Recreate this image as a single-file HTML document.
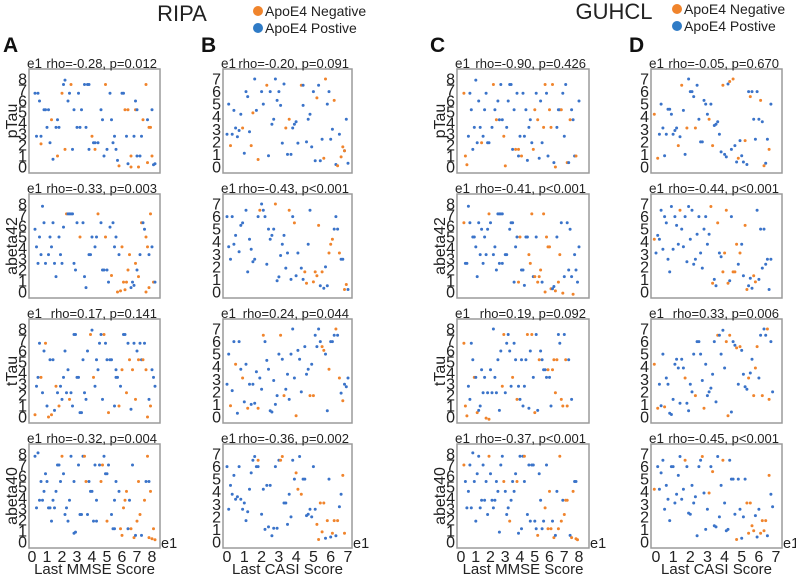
<!DOCTYPE html>
<html><head><meta charset="utf-8">
<style>
html,body{margin:0;padding:0;background:#fff;}
svg{display:block;font-family:"Liberation Sans",Arial,sans-serif;}
</style></head>
<body>
<svg id="fig" width="796" height="577" viewBox="0 0 796 577">
  <text x="182" y="21" font-size="22" text-anchor="middle" fill="#222">RIPA</text>
  <g>
    <circle cx="258" cy="11" r="5" fill="#f0842c"/>
    <text x="265" y="16" font-size="14" fill="#222">ApoE4 Negative</text>
    <circle cx="258" cy="28" r="5" fill="#2f7bc6"/>
    <text x="265" y="33" font-size="14" fill="#222">ApoE4 Postive</text>
  </g>
  <text x="614" y="19" font-size="22" text-anchor="middle" fill="#222">GUHCL</text>
  <g>
    <circle cx="677" cy="9" r="5" fill="#f0842c"/>
    <text x="684" y="14" font-size="14" fill="#222">ApoE4 Negative</text>
    <circle cx="677" cy="26" r="5" fill="#2f7bc6"/>
    <text x="684" y="31" font-size="14" fill="#222">ApoE4 Postive</text>
  </g>
  <text x="3" y="52" font-size="21" font-weight="bold" fill="#111">A</text>
  <text x="201" y="52" font-size="21" font-weight="bold" fill="#111">B</text>
  <text x="430" y="52" font-size="21" font-weight="bold" fill="#111">C</text>
  <text x="629" y="52" font-size="21" font-weight="bold" fill="#111">D</text>
  <g id="panels"></g>
</svg>
<script>
// ---- data ----
const rowLabels = ["pTau","abeta42","tTau","abeta40"];
const xAxisTitles = ["Last MMSE Score","Last CASI Score","Last MMSE Score","Last CASI Score"];
const colMax = [8,7,8,7];
const statsA = ["rho=-0.28, p=0.012","rho=-0.33, p=0.003","rho=0.17, p=0.141","rho=-0.32, p=0.004"];
const statsB = ["rho=-0.20, p=0.091","rho=-0.43, p<0.001","rho=0.24, p=0.044","rho=-0.36, p=0.002"];
const statsC = ["rho=-0.90, p=0.426","rho=-0.41, p<0.001","rho=0.19, p=0.092","rho=-0.37, p<0.001"];
const statsD = ["rho=-0.05, p=0.670","rho=-0.44, p<0.001","rho=0.33, p=0.006","rho=-0.45, p<0.001"];
// points: [x, y, group] group 0 = ApoE4 Negative, 1 = ApoE4 Postive
const ptsA1 = [[0.2,6.7,1],[0.4,6.7,1],[0.5,6,1],[0.3,2.8,1],[0.6,2.8,1],[0.6,2.1,0],[0.8,5.2,1],[0.9,5.2,1],[1.1,5.2,1],[1.0,3.6,1],[1.2,2.2,1],[1.4,0.7,1],[1.3,4.3,0],[1.6,3.6,1],[1.7,4.3,1],[1.8,3.6,1],[1.7,1,0],[2.0,6.7,0],[2.1,7.5,1],[2.2,7.9,1],[2.2,1.6,0],[2.4,6,1],[2.5,6.7,1],[2.6,7.5,0],[2.7,1.6,1],[2.8,5.2,1],[3.0,3.6,1],[3.1,6.7,1],[3.2,3.6,1],[3.3,5.2,1],[3.5,7.5,1],[3.6,3.6,1],[3.7,7.5,1],[3.8,7.5,1],[3.8,1.6,1],[4.0,2.8,0],[4.1,2.2,1],[4.2,2.2,1],[4.2,1.6,0],[4.4,2.2,1],[4.6,5.2,1],[4.7,4.3,1],[4.8,1,1],[4.9,7.5,0],[5.0,1.6,1],[5.2,6.7,1],[5.3,4.3,1],[5.4,2.2,1],[5.5,2.8,1],[5.6,1.6,1],[5.7,0.6,1],[5.8,0.1,0],[6.0,6.7,1],[6.1,6.7,1],[6.2,5.2,0],[6.4,5.2,0],[6.3,2.8,1],[6.4,0.3,1],[6.6,0,0],[6.6,1,0],[6.8,2.8,1],[6.9,5.2,0],[7.0,5.2,1],[6.9,6,1],[7.0,1,1],[7.2,1,1],[7.1,0,0],[7.3,2.8,1],[7.4,4.3,0],[7.6,7.5,0],[7.7,4.3,1],[7.8,3.6,0],[7.9,3.6,0],[7.7,0.4,0],[8.0,1,0],[8.0,5.2,1],[8.1,0.2,1],[8.2,0.3,1]];
const ptsA2 = [[0.2,5.7,1],[0.3,4.1,1],[0.4,2.6,1],[0.5,5,1],[0.6,3.4,1],[0.7,7.8,1],[0.8,6.3,1],[0.9,2.6,1],[1.1,3.4,1],[1.2,5,1],[1.3,4.1,1],[1.4,6.3,1],[1.5,2.6,1],[1.6,1.4,1],[1.8,5,1],[1.9,3.4,1],[2.0,2.6,1],[2.1,5.9,1],[2.3,7.1,0],[2.4,7.1,1],[2.5,7.1,1],[2.6,7.1,1],[2.7,7.1,1],[2.8,2.6,1],[2.9,2,1],[3.0,6.3,1],[3.2,5,0],[3.4,6.3,1],[3.5,1.4,1],[3.6,0.4,1],[3.8,3.4,1],[3.9,3.4,1],[4.0,5,1],[4.2,4.1,1],[4.3,5,1],[4.4,7.1,0],[4.6,6.3,1],[4.7,2,1],[4.8,2,1],[4.9,5,0],[5.0,2,1],[5.1,0.9,1],[5.2,5.9,1],[5.3,1.5,0],[5.4,6.3,1],[5.5,4.1,1],[5.6,5,1],[5.7,0,0],[5.8,3.4,1],[5.9,0.1,0],[6.0,4.1,0],[6.1,0.9,0],[6.2,0.2,0],[6.3,0.9,0],[6.4,2,0],[6.5,3.4,0],[6.6,0.4,1],[6.7,0.9,1],[6.8,0.6,1],[6.9,2.6,0],[7.0,2,1],[7.1,1.4,0],[7.2,3.4,1],[7.3,6.3,0],[7.4,6.3,1],[7.5,5.7,1],[7.6,5,0],[7.7,4.1,0],[7.8,3.4,1],[7.6,0,0],[7.8,0.4,0],[7.9,7.1,0],[8.0,4.1,1],[8.1,0.9,0],[8.2,0.9,1]];
const ptsA3 = [[0.2,0.2,0],[0.3,2.8,1],[0.4,3.6,1],[0.5,6.7,1],[0.6,3.6,0],[0.7,2.2,1],[0.8,6,1],[0.9,6.7,0],[1.0,1,1],[1.1,0,0],[1.2,5.2,1],[1.3,0.2,0],[1.4,5.2,1],[1.5,0.6,1],[1.6,2.8,0],[1.7,2.2,1],[1.8,1,0],[1.9,2.8,1],[2.0,1.6,1],[2.1,3.6,1],[2.2,6,1],[2.3,2.2,1],[2.4,4.3,1],[2.5,1.6,0],[2.6,2.2,1],[2.7,1,1],[2.8,7.5,1],[2.9,7.5,1],[3.0,3.6,1],[3.1,3.6,1],[3.2,0.4,1],[3.3,0.4,1],[3.4,5.2,1],[3.5,2.2,1],[3.6,1.6,1],[3.7,6,1],[3.9,7.5,0],[4.0,7.9,1],[4.1,3.6,0],[4.2,2.8,1],[4.3,5.2,1],[4.4,4.3,1],[4.5,6.7,1],[4.6,7.5,1],[4.7,1.6,1],[4.8,7.5,0],[4.9,6.7,1],[5.0,5.2,1],[5.1,0.4,0],[5.2,5.2,1],[5.3,5.2,1],[5.5,1,1],[5.6,3.6,1],[5.6,4.3,1],[5.7,3.6,1],[5.8,1,0],[5.9,2.8,1],[6.1,7.5,1],[6.2,7.5,1],[6.0,4.3,0],[6.3,2.2,0],[6.4,6.7,1],[6.5,5.2,0],[6.6,0.7,1],[6.7,4.3,0],[6.8,6.7,1],[6.9,1.6,0],[7.0,6,1],[7.1,5.2,0],[7.2,6.7,1],[7.3,5.2,1],[7.4,5.2,0],[7.5,6.7,1],[7.6,4.3,0],[7.7,0,0],[7.8,1.6,1],[7.9,1,0],[8.0,4.3,1],[8.1,3.6,1],[8.2,2.8,1]];
const ptsA4 = [[0.2,7.8,1],[0.3,3.1,1],[0.4,8.1,1],[0.5,3.8,1],[0.6,5.5,1],[0.7,3.8,1],[0.8,4.6,1],[0.9,6.2,1],[1.0,5.5,1],[1.1,3.1,1],[1.2,3.1,1],[1.3,1.9,1],[1.4,3.8,1],[1.5,3.1,1],[1.6,4.6,1],[1.7,7,1],[1.8,7,1],[1.9,5.5,1],[2.0,7.8,0],[2.1,6.2,1],[2.2,2.5,1],[2.3,3.1,1],[2.4,1.9,1],[2.5,3.8,1],[2.6,7.8,1],[2.8,0.8,1],[2.9,0.9,1],[2.8,5.5,1],[3.1,7,1],[3.2,2.5,1],[3.3,2.5,1],[3.4,7.8,1],[3.5,7.8,0],[3.6,5.5,0],[3.7,2.5,1],[3.8,5.5,1],[3.9,4.6,1],[4.0,4.6,1],[4.1,1.9,1],[4.2,7,1],[4.3,3.8,1],[4.3,1.9,1],[4.5,7,1],[4.6,5.5,0],[4.7,7,0],[4.8,7.8,1],[4.9,6.2,1],[5.0,6.2,1],[5.0,1.9,0],[5.1,7,1],[5.3,2.5,1],[5.4,1.2,1],[5.5,1.2,1],[5.5,3.8,1],[5.6,5.5,1],[5.8,4.6,1],[5.9,1.2,0],[6.0,0.6,0],[6.1,3.1,0],[6.2,3.8,0],[6.3,4.6,0],[6.4,1.2,1],[6.5,3.8,1],[6.6,1.2,0],[6.7,7,1],[6.8,0.4,0],[6.9,0.6,1],[7.0,1.9,0],[7.1,5.5,0],[7.2,2.5,0],[7.3,0.6,1],[7.5,3.8,0],[7.6,5.5,1],[7.7,7.8,0],[7.8,5.5,1],[7.9,4.6,0],[7.8,0.4,0],[8.0,0.3,0],[8.1,1.2,0],[8.2,0.2,0]];
const ptsB1 = [[0.0,2.6,1],[0.1,5,1],[0.2,1.7,0],[0.3,2.6,1],[0.4,4.5,1],[0.5,3.1,1],[0.6,2.4,1],[0.7,2.9,1],[0.8,4.2,1],[0.9,3.1,0],[1.0,1.1,1],[1.1,6,1],[1.2,5.6,1],[1.3,2.8,1],[1.4,1.7,0],[1.5,4.3,0],[1.6,7,1],[1.7,4.5,1],[1.8,0.6,0],[2.0,6,1],[2.1,5,1],[2.3,6.5,0],[2.4,0.9,1],[2.5,6,1],[2.6,3.4,1],[2.7,3.8,1],[2.8,7,1],[2.9,5.3,1],[3.0,6,1],[3.1,4.9,1],[3.2,1.9,1],[3.3,6.6,1],[3.4,3.1,0],[3.5,1,1],[3.6,3.8,0],[3.7,1,1],[3.8,3.1,1],[3.9,3.4,1],[4.0,3.6,1],[4.1,1.9,1],[4.3,6.5,0],[4.4,6.5,1],[4.4,4.9,1],[4.6,2,1],[4.7,3.8,1],[4.8,4.2,1],[4.9,1.6,1],[5.0,6,1],[5.1,0.5,1],[5.2,5.5,0],[5.3,6.5,1],[5.4,0.5,1],[5.5,2.2,1],[5.6,0.7,0],[5.7,7,0],[5.8,5,1],[5.9,6,1],[6.0,2.2,1],[6.1,3,1],[6.2,5.3,0],[6.3,0.2,1],[6.4,0.1,0],[6.5,2.6,1],[6.6,0.8,0],[6.7,1.6,0],[6.8,1.3,1],[6.8,1.3,0],[6.9,3.8,1],[7.0,0.3,1]];
const ptsB2 = [[0.0,6,1],[0.1,3.6,1],[0.2,2.6,1],[0.3,6,1],[0.4,3.8,1],[0.5,4.5,1],[0.7,3.2,1],[0.8,5.3,1],[0.9,5.5,1],[1.1,6.5,1],[1.2,1.6,1],[1.3,4.2,1],[1.4,3.4,1],[1.5,2.4,1],[1.6,2.6,1],[1.8,6,1],[1.9,6.5,0],[2.0,7,1],[2.1,6.5,1],[2.2,6,1],[2.3,2.2,1],[2.4,5,1],[2.5,4.2,1],[2.6,4.5,1],[2.7,5,1],[2.8,7,0],[2.9,0.9,1],[3.0,1.2,1],[3.1,2.9,1],[3.2,3.8,1],[3.3,4.5,1],[3.4,1.9,1],[3.5,3.1,1],[3.6,6.5,0],[3.7,1,1],[3.8,6,1],[3.9,5.5,0],[4.0,1.3,1],[4.1,3.1,1],[4.3,1.9,1],[4.4,1,1],[4.5,1.6,0],[4.6,0.7,0],[4.7,3.8,1],[4.8,6.5,1],[5.0,0.8,0],[5.1,1.6,0],[5.2,1.3,0],[5.3,5.3,0],[5.4,0.5,1],[5.5,1.6,0],[5.6,0.3,1],[5.7,2,1],[5.8,0.5,1],[5.9,3.1,0],[6.0,3.8,0],[6.1,4.2,0],[6.2,5,1],[6.3,6,1],[6.4,5,1],[6.5,3.1,0],[6.6,2.6,1],[6.7,2.6,1],[6.8,0.2,0],[6.9,0.6,0],[7.0,0.2,1]];
const ptsB3 = [[0.0,2.6,1],[0.1,5,1],[0.2,0.9,0],[0.3,2.1,1],[0.4,6,1],[0.5,4.2,0],[0.6,0.3,1],[0.7,6,1],[0.8,3.8,1],[0.9,3.1,0],[1.0,1.2,1],[1.1,4.2,1],[1.2,0.7,0],[1.3,2.6,1],[1.4,1,1],[1.5,2.6,1],[1.6,1.1,1],[1.7,3.6,1],[1.8,0.7,0],[1.9,3.1,1],[2.0,2.2,1],[2.1,6.5,0],[2.2,6,1],[2.3,4.5,1],[2.4,3.8,1],[2.5,0.5,1],[2.6,0.4,1],[2.7,2.9,1],[2.8,1,1],[2.9,1.7,1],[3.0,5,1],[3.1,6.5,0],[3.2,4.6,1],[3.3,1.7,0],[3.4,2.2,1],[3.5,3.4,1],[3.6,1.4,1],[3.7,5,1],[3.8,7,1],[3.9,3.1,1],[4.0,0.1,0],[4.1,5.3,1],[4.2,4.6,1],[4.3,2,1],[4.5,5.6,1],[4.6,3.4,1],[4.7,3.8,1],[4.8,1.7,0],[4.9,4.2,1],[5.0,1.7,0],[5.1,6.5,1],[5.2,5.6,1],[5.3,7,1],[5.4,6,1],[5.5,5.6,0],[5.6,5.3,0],[5.7,5,1],[5.8,0.5,1],[5.9,3.8,0],[6.0,6,1],[6.1,6,1],[6.2,6.5,1],[6.3,7,0],[6.4,6.5,1],[6.5,3.1,0],[6.6,1.9,1],[6.7,1.3,0],[6.8,2.6,1],[6.9,2.4,1],[7.0,3.1,1]];
const ptsB4 = [[0.0,6,1],[0.1,2.6,1],[0.2,4.5,1],[0.3,3.8,1],[0.4,5.3,1],[0.5,3.4,1],[0.6,3.6,1],[0.7,6,1],[0.8,3.4,1],[0.9,2.6,1],[1.0,3.1,1],[1.1,1.7,1],[1.2,2.4,1],[1.3,4.2,1],[1.4,5.5,1],[1.5,6.5,1],[1.6,6.8,1],[1.7,6,1],[1.8,6,1],[1.8,6.5,0],[2.0,2.2,1],[2.1,4.2,1],[2.2,1,1],[2.3,4.5,1],[2.4,1.2,1],[2.5,4.5,1],[2.6,0.5,1],[2.7,1.1,1],[2.8,6,1],[2.9,1.1,1],[3.0,6.5,1],[3.1,6.5,0],[3.2,6.8,0],[3.3,3.1,1],[3.4,3.1,1],[3.5,1.4,1],[3.6,3.8,1],[3.7,2,1],[3.8,6.5,1],[3.9,5,1],[4.0,5.5,0],[4.1,4.2,0],[4.2,6.8,1],[4.3,3.8,0],[4.4,5,1],[4.5,5,1],[4.6,2.1,1],[4.7,2.2,1],[4.8,2.6,1],[4.9,2,1],[5.0,6,1],[5.1,2.6,1],[5.2,1.4,0],[5.3,0.2,0],[5.4,3.1,0],[5.5,0.8,0],[5.6,3.1,0],[5.7,0.3,1],[5.8,1.7,0],[5.9,5,1],[6.0,0.4,1],[6.1,0.7,0],[6.2,1.7,0],[6.3,0.5,1],[6.4,1.7,0],[6.5,2.8,1],[6.6,3.8,1],[6.7,5.3,0],[6.8,0.7,0]];
const ptsC1 = [[0.2,6.7,0],[0.3,1,0],[0.4,0.2,0],[0.5,2.8,1],[0.6,6.7,1],[0.7,5.2,1],[0.8,1.6,1],[0.9,3.6,1],[1.0,7.9,1],[1.1,2.2,1],[1.2,6,1],[1.3,3.6,1],[1.4,2.2,0],[1.5,2.8,1],[1.6,5.2,1],[1.7,6.7,1],[1.8,2.2,1],[1.9,2.2,1],[2.1,3.6,1],[2.2,7.5,0],[2.3,5.2,1],[2.4,4.3,0],[2.5,6,1],[2.6,4.3,1],[2.7,7.5,1],[2.8,4.3,1],[2.9,2.8,0],[3.0,0.1,0],[3.1,3.6,1],[3.2,6,1],[3.3,7.5,1],[3.4,7.5,1],[3.5,1.6,1],[3.6,5.2,1],[3.7,1.6,0],[3.8,6.7,1],[3.9,1.6,0],[3.9,1,1],[4.0,2.8,1],[4.1,1,0],[4.2,6.7,1],[4.3,2.8,1],[4.4,5.2,1],[4.5,0.6,1],[4.6,3.6,1],[4.7,4.3,1],[4.8,2.2,1],[4.9,1.6,0],[5.0,5.2,0],[5.1,6.7,1],[5.2,4.3,0],[5.3,0.8,1],[5.4,6,1],[5.5,2.2,1],[5.6,3.6,0],[5.7,7.5,0],[5.8,6.7,1],[5.9,1,1],[6.0,5.2,0],[6.1,3.6,0],[6.2,7.5,0],[6.3,0.4,1],[6.4,0,0],[6.5,3.6,1],[6.6,5.2,1],[6.7,5.2,1],[6.8,5.2,0],[6.9,6.7,1],[7.0,2.8,1],[7.1,7.5,1],[7.2,0.4,0],[7.3,0.4,1],[7.4,4.3,0],[7.5,5.2,1],[7.6,4.3,1],[7.7,1,1],[7.8,1,0],[8.0,6,1]];
const ptsC2 = [[0.2,6.3,0],[0.3,2.6,1],[0.4,2.6,1],[0.5,7.8,1],[0.6,6.3,1],[0.8,5,1],[0.9,5,1],[1.0,4.1,1],[1.1,1.4,1],[1.2,6.3,1],[1.3,3.4,1],[1.4,5.7,1],[1.5,2.6,1],[1.6,5,1],[1.7,3.4,1],[1.8,5.7,1],[1.9,7.1,0],[2.0,6.3,1],[2.2,3.4,1],[2.3,4.1,1],[2.4,2,1],[2.5,7.1,1],[2.6,7.1,1],[2.7,7.1,1],[2.8,7.1,1],[2.6,2.6,1],[2.8,2.6,1],[3.0,3.4,1],[3.1,3.4,1],[3.3,5.7,1],[3.4,6.3,1],[3.5,6.3,1],[3.6,0.9,1],[3.7,4.1,1],[3.8,5,1],[3.9,0.9,0],[4.0,5,0],[4.1,2,1],[4.2,2,1],[4.3,0.6,1],[4.4,5,1],[4.5,5,1],[4.6,3.4,0],[4.7,2.6,0],[4.8,7.1,0],[4.9,1.4,1],[5.0,1.4,0],[5.1,5,1],[5.2,0.9,0],[5.3,1.4,0],[5.4,2,0],[5.5,0.9,1],[5.6,7.1,0],[5.7,0,0],[5.8,5,0],[5.9,4.1,0],[6.0,4.1,0],[6.1,0.3,0],[6.2,0.3,1],[6.3,0.5,1],[6.4,0.1,0],[6.5,5,1],[6.6,0.9,0],[6.7,3.4,0],[6.8,6.3,1],[6.9,-0.1,0],[7.0,1.4,1],[7.2,6.3,1],[7.3,2,1],[7.4,5.7,1],[7.5,1.4,1],[7.6,-0.2,0],[7.7,3.4,1],[7.8,2,1],[7.9,0.9,1],[8.0,4.1,1]];
const ptsC3 = [[0.2,6.7,0],[0.3,1,0],[0.4,0.1,0],[0.5,2.8,1],[0.6,1.6,1],[0.7,6.7,1],[0.8,5.2,1],[0.9,3.6,0],[1.0,3.6,1],[1.1,0.4,0],[1.2,0.6,1],[1.3,1,1],[1.4,4.3,1],[1.5,2.2,1],[1.6,3.6,1],[1.7,-0.1,0],[1.8,2.2,1],[1.9,-0.2,0],[2.0,4.3,1],[2.1,2.2,1],[2.2,8,1],[2.3,3.6,1],[2.4,2.2,1],[2.5,5.2,1],[2.6,0.6,1],[2.7,6,1],[2.8,2.8,0],[2.9,7.5,0],[3.0,2.2,1],[3.1,6.7,1],[3.2,7.5,1],[3.3,6,1],[3.4,2.8,1],[3.5,3.6,0],[3.6,6.7,1],[3.7,5.2,1],[3.8,1.6,0],[3.9,2.8,1],[4.0,1.6,1],[4.1,5.2,1],[4.2,1,1],[4.3,2.8,1],[4.4,5.2,1],[4.5,7.5,0],[4.6,0.8,1],[4.7,6,1],[4.8,7.5,0],[4.9,3.6,1],[5.0,0.4,0],[5.1,7.5,1],[5.2,0.6,1],[5.3,5.2,0],[5.4,6,1],[5.5,5.2,1],[5.6,4.3,1],[5.7,4.3,1],[5.8,3.6,1],[5.9,4.3,0],[6.0,3.6,1],[6.1,1,1],[6.2,4.3,0],[6.3,5.2,0],[6.4,2.2,0],[6.5,5.2,0],[6.6,7.5,1],[6.7,6.7,1],[6.8,1.6,0],[6.9,1,0],[7.0,7.5,1],[7.1,5.2,0],[7.2,1,0],[7.3,5.2,1],[7.5,1.6,1]];
const ptsC4 = [[0.2,7,0],[0.3,5.5,1],[0.4,3.1,1],[0.5,4.6,1],[0.6,7,1],[0.7,3.1,1],[0.8,8.1,1],[0.9,5.5,1],[1.0,1.9,1],[1.1,6.2,1],[1.2,7.8,1],[1.3,3.1,1],[1.4,3.8,1],[1.5,7,1],[1.6,3.8,1],[1.7,5.5,1],[1.8,2.5,1],[1.9,7.8,0],[2.0,6.2,1],[2.1,3.8,1],[2.2,3.1,1],[2.3,3.8,1],[2.4,5.5,1],[2.5,4.6,1],[2.6,0.9,1],[2.7,7,1],[2.8,7.8,1],[2.9,5.5,0],[3.0,4.6,1],[3.1,2.5,1],[3.2,3.1,1],[3.3,1.9,0],[3.4,3.8,1],[3.5,5.5,1],[3.6,4.6,1],[3.7,6.2,1],[3.8,5.5,0],[3.9,0.8,1],[4.0,7.8,1],[4.1,1.2,1],[4.2,7.8,1],[4.3,7.8,0],[4.3,5.5,1],[4.5,2.5,1],[4.6,7,1],[4.7,1.9,1],[4.8,7,1],[4.9,7,1],[5.0,1.9,1],[5.1,1.2,1],[5.2,0.6,0],[5.3,6.2,1],[5.4,3.8,1],[5.5,1.2,1],[5.6,1.9,1],[5.7,3.1,0],[5.8,7,1],[5.9,1.2,0],[6.0,4.6,0],[6.1,1.2,0],[6.2,1.9,1],[6.3,0.4,0],[6.4,0.6,1],[6.5,4.6,1],[6.6,1.2,0],[6.7,7.8,0],[6.8,1.9,0],[6.9,3.8,1],[7.0,2.5,0],[7.1,3.8,0],[7.2,3.8,0],[7.4,0.6,1],[7.5,0.4,0],[7.6,4.6,0],[7.7,5.5,1],[7.8,5.5,1],[7.8,0.3,0],[7.9,0.2,0]];
const ptsD1 = [[-0.1,4.2,0],[0.1,0.7,0],[0.2,2.6,1],[0.3,5,1],[0.4,3.1,1],[0.5,0.9,1],[0.6,2.6,1],[0.7,4.6,1],[0.8,4.6,1],[0.9,4.2,1],[1.0,2.6,1],[1.1,2.9,1],[1.2,3.1,1],[1.3,1.7,0],[1.4,2.4,1],[1.5,6.5,0],[1.6,4.5,1],[1.7,1,1],[1.8,3.1,0],[1.9,7,1],[2.0,6,1],[2.1,6,1],[2.2,5.6,1],[2.3,3.1,0],[2.4,6.5,1],[2.5,3.8,1],[2.6,2,1],[2.7,2,1],[2.8,5.3,1],[2.9,5,1],[3.0,4.2,1],[3.1,3.8,0],[3.2,5,1],[3.3,1.7,0],[3.4,3.3,1],[3.5,3.4,1],[3.6,3.6,1],[3.7,2.6,1],[3.8,1.2,1],[3.9,6.5,0],[4.0,1,1],[4.1,0.8,1],[4.2,6.6,1],[4.3,6.8,0],[4.4,1.4,1],[4.5,7,0],[4.6,1.7,1],[4.7,0.4,1],[4.8,0.7,0],[4.9,2.1,1],[5.0,0.9,1],[5.1,0.4,1],[5.2,2.1,0],[5.3,0.2,1],[5.4,6,1],[5.5,5.6,0],[5.6,6,1],[5.7,3.8,1],[5.8,2.2,1],[5.9,6,1],[6.0,3.8,1],[6.1,5.3,0],[6.2,3.6,1],[6.3,0.1,0],[6.4,0.3,1],[6.5,2.2,1],[6.6,1.4,0],[6.7,5,1]];
const ptsD2 = [[-0.1,4.2,0],[0.0,3.1,1],[0.1,4.5,1],[0.2,4.2,1],[0.3,6.5,1],[0.4,3.4,1],[0.5,6,1],[0.6,5.5,1],[0.7,2.6,1],[0.8,1.6,1],[0.9,6.8,1],[1.0,3.4,1],[1.1,6,1],[1.2,5.3,1],[1.3,3.8,1],[1.4,6.5,0],[1.5,5,1],[1.6,3.6,1],[1.7,6,1],[1.8,2.4,1],[1.9,6.8,1],[2.0,4.2,1],[2.1,6.5,1],[2.2,2.2,1],[2.3,2.6,1],[2.4,4.6,1],[2.5,6,1],[2.6,3.1,1],[2.7,1.9,1],[2.8,5,1],[2.9,6,1],[3.0,3.8,1],[3.1,4.6,1],[3.2,6.8,0],[3.3,0.7,0],[3.4,1,1],[3.5,0.5,1],[3.6,5.5,0],[3.7,3.1,1],[3.8,2.8,1],[3.9,1.6,0],[4.0,3.1,0],[4.1,6.5,0],[4.2,0.7,0],[4.3,0.9,1],[4.4,6,1],[4.5,1.6,0],[4.6,1.6,0],[4.7,3.8,0],[4.8,2.2,1],[4.9,3.1,0],[5.0,3.8,1],[5.1,1.3,1],[5.2,5.3,0],[5.3,0.2,0],[5.4,0.5,1],[5.5,1.1,1],[5.6,0.3,1],[5.7,1.3,0],[5.8,0.8,0],[5.9,6.5,1],[6.0,1,1],[6.1,5,1],[6.2,1.9,1],[6.3,5,1],[6.4,2.2,1],[6.5,2.6,1],[6.6,0.2,1],[6.7,2.6,1]];
const ptsD3 = [[-0.1,4.2,0],[0.1,0.7,0],[0.2,2.6,1],[0.3,0.9,1],[0.4,5,1],[0.5,0.8,0],[0.6,3.1,1],[0.7,2.6,1],[0.8,0.3,1],[0.9,0.2,1],[1.0,1.4,1],[1.1,4.2,1],[1.2,4.6,1],[1.3,3.9,1],[1.4,1.1,1],[1.5,4.6,1],[1.6,3.9,1],[1.7,3.1,0],[1.8,1.1,1],[1.9,0.5,1],[2.0,2.6,1],[2.1,2,1],[2.2,5,1],[2.3,1.7,0],[2.4,6,1],[2.5,6,1],[2.6,5,1],[2.7,2.9,1],[2.8,0.7,0],[2.9,4.2,1],[3.0,1.7,1],[3.1,2,1],[3.2,2.3,1],[3.3,3.4,1],[3.4,6,1],[3.5,1.2,1],[3.6,6.5,0],[3.7,6.5,1],[3.8,5,1],[3.9,6.9,1],[4.0,3.9,1],[4.1,6,0],[4.2,0.1,0],[4.3,6.5,0],[4.4,0.4,1],[4.5,6,1],[4.6,5.7,1],[4.7,5.5,0],[4.8,2.6,1],[4.9,5.6,0],[5.0,5.3,1],[5.1,3.4,1],[5.2,2.4,1],[5.3,2.2,1],[5.4,3.1,0],[5.5,3.5,1],[5.6,4.6,1],[5.7,1.7,0],[5.8,3.9,0],[5.9,5.6,0],[6.0,3.1,1],[6.1,6.5,1],[6.2,1.7,0],[6.3,7,1],[6.4,6.5,1],[6.5,7,0],[6.6,1.4,0],[6.7,6,1],[6.8,2,1]];
const ptsD4 = [[-0.1,4.2,0],[0.1,6,1],[0.2,4.2,1],[0.3,5.5,1],[0.4,6.5,1],[0.5,2.6,1],[0.6,4.5,1],[0.7,3.4,1],[0.8,1.7,1],[0.9,6,1],[1.0,6,1],[1.1,3.1,1],[1.2,3.8,1],[1.3,5.3,1],[1.4,6.8,1],[1.5,3.4,1],[1.6,4.2,1],[1.7,6.5,0],[1.8,6,1],[1.9,2.3,1],[2.0,2.2,1],[2.1,4.5,1],[2.2,3.1,1],[2.3,3.6,1],[2.4,0.5,1],[2.5,6,1],[2.6,6.5,1],[2.7,6.8,0],[2.8,3.9,1],[2.9,1,1],[3.0,2.6,1],[3.1,3.9,0],[3.2,6,1],[3.3,5.6,0],[3.4,1.3,1],[3.5,1.2,1],[3.6,6.8,1],[3.7,2,1],[3.8,4.5,1],[3.9,6.5,0],[4.0,3.1,1],[4.1,0.9,1],[4.2,1,1],[4.3,6.5,1],[4.4,5,1],[4.5,5,1],[4.6,2.2,1],[4.7,0.2,0],[4.8,5,1],[4.9,2.6,1],[5.0,0.3,1],[5.1,2,1],[5.2,5,1],[5.3,3.1,0],[5.4,0.7,0],[5.5,3.1,0],[5.6,1.3,0],[5.7,0.9,0],[5.8,2.1,1],[5.9,0.4,1],[6.0,2.6,1],[6.1,0.7,0],[6.2,1.7,0],[6.3,0.9,0],[6.4,1.7,0],[6.5,0.5,1],[6.6,5.3,0],[6.7,3.8,1],[6.8,2.8,1]];

const panelPts = [[ptsA1,ptsA2,ptsA3,ptsA4],[ptsB1,ptsB2,ptsB3,ptsB4],[ptsC1,ptsC2,ptsC3,ptsC4],[ptsD1,ptsD2,ptsD3,ptsD4]];
const panelStats = [statsA,statsB,statsC,statsD];

// ---- layout ----
const NS = "http://www.w3.org/2000/svg";
const cols = [
  {l:29,r:160,x0:32,x1:152,ylab:true,xlab:13},
  {l:223,r:352,x0:227,x1:348,ylab:false},
  {l:457,r:589,x0:461,x1:579,ylab:true,xlab:441},
  {l:651,r:782,x0:656,x1:776,ylab:false}
];
const rowTops = [69,194,319,444];
const H = 104;
const colors = ["#f0842c","#3a73c9"];
const root = document.getElementById("panels");
function mk(tag, attrs, parent, txt){
  const e = document.createElementNS(NS, tag);
  for (const k in attrs) e.setAttribute(k, attrs[k]);
  if (txt !== undefined) e.textContent = txt;
  parent.appendChild(e);
  return e;
}
const letters = ["a","b","c","d"];
for (let c = 0; c < 4; c++) {
  const C = cols[c], m = colMax[c];
  const xs = v => C.x0 + v / m * (C.x1 - C.x0);
  for (let r = 0; r < 4; r++) {
    const top = rowTops[r], bot = top + H;
    const y0 = bot - 6, y1 = top + 10;
    const ys = v => y0 - v / m * (y0 - y1);
    const g = mk("g", {}, root);
    
    
    const fr = mk("rect", {x:C.l, y:top, width:C.r-C.l, height:H, fill:"#fff", stroke:"#9a9a9a", "stroke-width":1.5}, g);
    
    
    const e1 = mk("text", {x:C.l-2, y:top-1, "font-size":13.5, fill:"#222"}, g, "e1");
    
    
    const st = mk("text", {x:C.r-3, y:top-1, "font-size":13, "text-anchor":"end", fill:"#222"}, g, panelStats[c][r]);
    
    
    for (let t = 0; t <= m; t++) {
      const tl = mk("text", {x:C.l-2, y:ys(t)+5.5, "font-size":16, "text-anchor":"end", fill:"#222"}, g, String(t));
      
      
    }
    if (C.ylab) {
      const yt = mk("text", {x:C.xlab, y:(top+bot)/2, "font-size":16, "text-anchor":"middle", fill:"#222",
        transform:"rotate(-90 "+C.xlab+" "+((top+bot)/2)+")", "dominant-baseline":"middle"}, g, rowLabels[r]);
      
      
    }
    const pts = panelPts[c][r];
    for (const p of pts) {
      const d = mk("circle", {cx:xs(p[0]).toFixed(1), cy:ys(p[1]).toFixed(1), r:1.5, fill:colors[p[2]]}, g);
      
      
    }
    if (r === 3) {
      for (let t = 0; t <= m; t++) {
        const xl = mk("text", {x:xs(t), y:562, "font-size":16, "text-anchor":"middle", fill:"#222"}, g, String(t));
        
        
      }
      const ex = mk("text", {x:C.r+1, y:bot+0, "font-size":14.5, fill:"#222"}, g, "e1");
      
      
      const xt = mk("text", {x:(C.l+C.r)/2, y:574, "font-size":15, "text-anchor":"middle", fill:"#222"}, g, xAxisTitles[c]);
      
      
    }
  }
}
</script>
</body></html>
